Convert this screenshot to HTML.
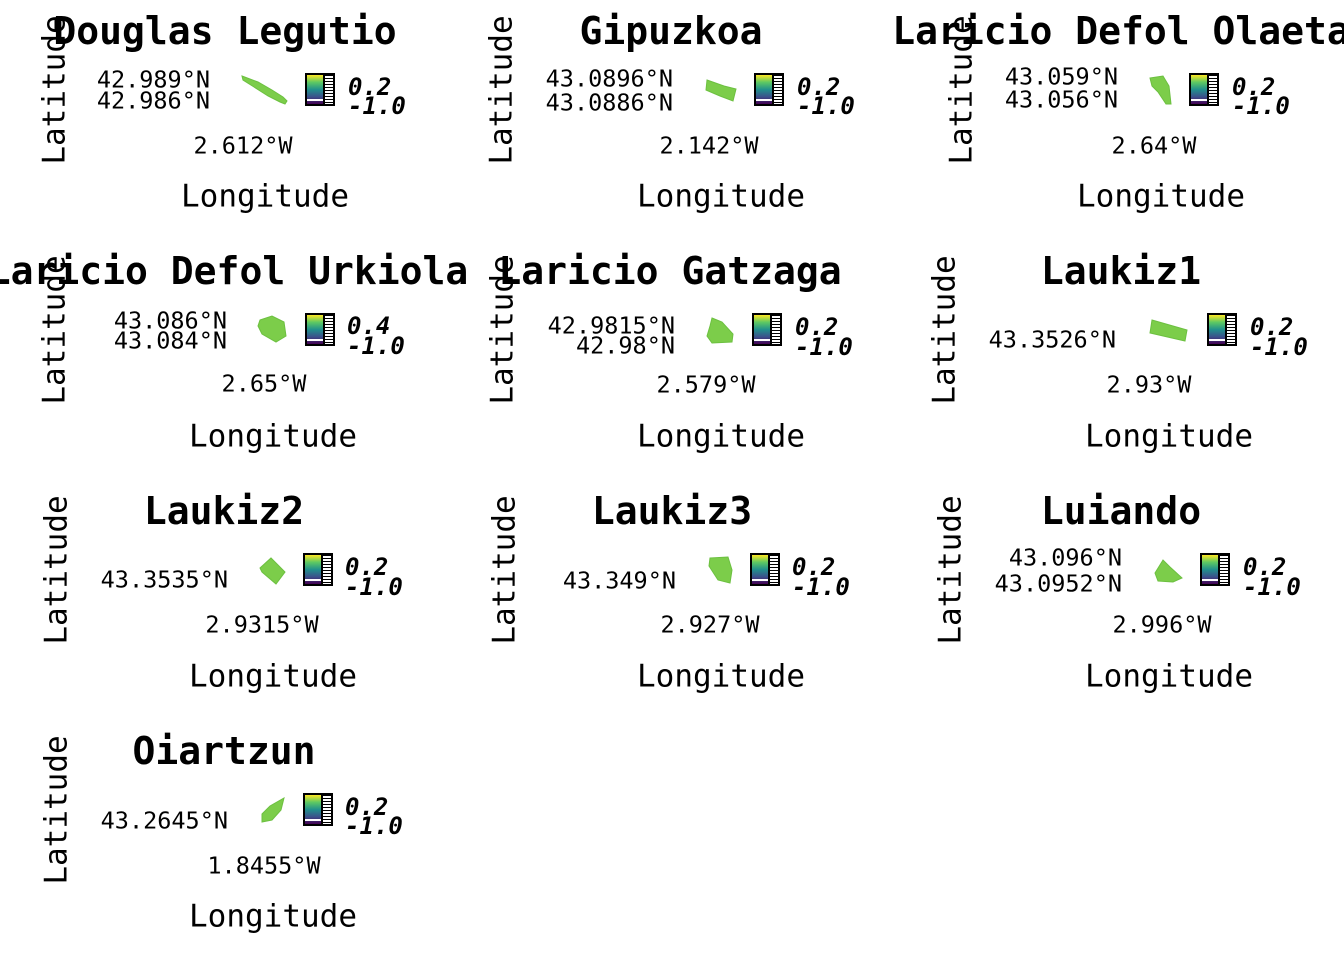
<!DOCTYPE html>
<html><head><meta charset="utf-8"><style>
body{margin:0;width:1344px;height:960px;background:#fff;position:relative;overflow:hidden;font-family:"DejaVu Sans Mono","Liberation Mono",monospace;color:#000}
.t{position:absolute;white-space:nowrap;transform:translate(-50%,-50%);line-height:1}
.ti{font-size:38px;font-weight:bold}
.lo{font-size:31px}
.la{font-size:31px;transform:translate(-50%,-50%) rotate(-90deg)}
.tk{font-size:23.5px}
.yt{position:absolute;white-space:nowrap;transform:translate(-100%,-50%);font-size:23.5px;line-height:1}
.cl{position:absolute;white-space:nowrap;font-size:24px;font-weight:bold;font-style:italic;line-height:1;transform:translateY(-50%)}
.cb{position:absolute;width:30px;height:33px;box-sizing:border-box;border:2px solid #000;display:flex}
.cb .g{width:16px;height:100%;background:linear-gradient(#fde725,#5ec962,#21918c,#3b528b,#440154);border-right:2px solid #000;position:relative}
.cb .g:after{content:"";position:absolute;left:0;right:0;bottom:3px;height:2px;background:#fff}
.cb .s{flex:1;background:repeating-linear-gradient(#000 0 1px,#fff 1px 3px)}
svg{position:absolute;left:0;top:0}
</style></head><body>
<svg width="1344" height="960">
<g fill="#7ccd4a" stroke="#6cc040" stroke-width="1">
<path d="M242,76 L258,82 L272,90 L283,97 L287,101 L285,104 L280,102 L268,96 L254,87 L243,80Z"/>
<path d="M707,80 L724,86 L736,89 L733,101 L720,96 L706,90Z"/>
<path d="M1150,78 L1163,76 L1169,86 L1171,104 L1166,104 L1158,92 L1152,86Z"/>
<path d="M260,320 L272,316 L284,322 L286,336 L276,342 L262,334 L258,326Z"/>
<path d="M712,318 L722,322 L733,334 L732,342 L712,343 L707,336 L710,326Z"/>
<path d="M1152,320 L1187,330 L1185,341 L1150,333Z"/>
<path d="M260,568 L271,558 L285,572 L276,584 L262,572Z"/>
<path d="M710,558 L728,557 L732,570 L730,583 L718,580 L709,566Z"/>
<path d="M1155,573 L1163,560 L1170,567 L1182,578 L1173,582 L1158,581Z"/>
<path d="M262,814 L270,806 L284,798 L281,810 L272,820 L262,822Z"/>
</g></svg>

<div class="t ti" style="left:225px;top:31px">Douglas Legutio</div>
<div class="t la" style="left:55px;top:90px">Latitude</div>
<div class="yt" style="left:210px;top:80px">42.989°N</div>
<div class="yt" style="left:210px;top:101px">42.986°N</div>
<div class="t tk" style="left:243px;top:146px">2.612°W</div>
<div class="t lo" style="left:265px;top:197px">Longitude</div>
<div class="cb" style="left:305px;top:73px"><div class="g"></div><div class="s"></div></div>
<div class="cl" style="left:348px;top:87px">0.2</div><div class="cl" style="left:348px;top:106px">-1.0</div>

<div class="t ti" style="left:671px;top:31px">Gipuzkoa</div>
<div class="t la" style="left:502px;top:90px">Latitude</div>
<div class="yt" style="left:673px;top:79px">43.0896°N</div>
<div class="yt" style="left:673px;top:103px">43.0886°N</div>
<div class="t tk" style="left:709px;top:146px">2.142°W</div>
<div class="t lo" style="left:721px;top:197px">Longitude</div>
<div class="cb" style="left:754px;top:73px"><div class="g"></div><div class="s"></div></div>
<div class="cl" style="left:797px;top:87px">0.2</div><div class="cl" style="left:797px;top:106px">-1.0</div>

<div class="t ti" style="left:1121px;top:31px">Laricio Defol Olaeta</div>
<div class="t la" style="left:962px;top:90px">Latitude</div>
<div class="yt" style="left:1118px;top:77px">43.059°N</div>
<div class="yt" style="left:1118px;top:100px">43.056°N</div>
<div class="t tk" style="left:1154px;top:146px">2.64°W</div>
<div class="t lo" style="left:1161px;top:197px">Longitude</div>
<div class="cb" style="left:1189px;top:73px"><div class="g"></div><div class="s"></div></div>
<div class="cl" style="left:1232px;top:87px">0.2</div><div class="cl" style="left:1232px;top:106px">-1.0</div>

<div class="t ti" style="left:228px;top:271px">Laricio Defol Urkiola</div>
<div class="t la" style="left:55px;top:330px">Latitude</div>
<div class="yt" style="left:227px;top:321px">43.086°N</div>
<div class="yt" style="left:227px;top:341px">43.084°N</div>
<div class="t tk" style="left:264px;top:384px">2.65°W</div>
<div class="t lo" style="left:273px;top:437px">Longitude</div>
<div class="cb" style="left:305px;top:313px"><div class="g"></div><div class="s"></div></div>
<div class="cl" style="left:347px;top:326px">0.4</div><div class="cl" style="left:347px;top:346px">-1.0</div>

<div class="t ti" style="left:670px;top:271px">Laricio Gatzaga</div>
<div class="t la" style="left:503px;top:330px">Latitude</div>
<div class="yt" style="left:675px;top:326px">42.9815°N</div>
<div class="yt" style="left:675px;top:346px">42.98°N</div>
<div class="t tk" style="left:706px;top:385px">2.579°W</div>
<div class="t lo" style="left:721px;top:437px">Longitude</div>
<div class="cb" style="left:752px;top:313px"><div class="g"></div><div class="s"></div></div>
<div class="cl" style="left:795px;top:327px">0.2</div><div class="cl" style="left:795px;top:347px">-1.0</div>

<div class="t ti" style="left:1121px;top:271px">Laukiz1</div>
<div class="t la" style="left:945px;top:330px">Latitude</div>
<div class="yt" style="left:1116px;top:340px">43.3526°N</div>
<div class="t tk" style="left:1149px;top:385px">2.93°W</div>
<div class="t lo" style="left:1169px;top:437px">Longitude</div>
<div class="cb" style="left:1207px;top:313px"><div class="g"></div><div class="s"></div></div>
<div class="cl" style="left:1250px;top:327px">0.2</div><div class="cl" style="left:1250px;top:347px">-1.0</div>

<div class="t ti" style="left:224px;top:511px">Laukiz2</div>
<div class="t la" style="left:57px;top:570px">Latitude</div>
<div class="yt" style="left:228px;top:580px">43.3535°N</div>
<div class="t tk" style="left:262px;top:625px">2.9315°W</div>
<div class="t lo" style="left:273px;top:677px">Longitude</div>
<div class="cb" style="left:303px;top:553px"><div class="g"></div><div class="s"></div></div>
<div class="cl" style="left:345px;top:567px">0.2</div><div class="cl" style="left:345px;top:587px">-1.0</div>

<div class="t ti" style="left:672px;top:511px">Laukiz3</div>
<div class="t la" style="left:505px;top:570px">Latitude</div>
<div class="yt" style="left:676px;top:581px">43.349°N</div>
<div class="t tk" style="left:710px;top:625px">2.927°W</div>
<div class="t lo" style="left:721px;top:677px">Longitude</div>
<div class="cb" style="left:750px;top:553px"><div class="g"></div><div class="s"></div></div>
<div class="cl" style="left:792px;top:567px">0.2</div><div class="cl" style="left:792px;top:587px">-1.0</div>

<div class="t ti" style="left:1121px;top:511px">Luiando</div>
<div class="t la" style="left:951px;top:570px">Latitude</div>
<div class="yt" style="left:1122px;top:558px">43.096°N</div>
<div class="yt" style="left:1122px;top:584px">43.0952°N</div>
<div class="t tk" style="left:1162px;top:625px">2.996°W</div>
<div class="t lo" style="left:1169px;top:677px">Longitude</div>
<div class="cb" style="left:1200px;top:553px"><div class="g"></div><div class="s"></div></div>
<div class="cl" style="left:1243px;top:567px">0.2</div><div class="cl" style="left:1243px;top:587px">-1.0</div>

<div class="t ti" style="left:224px;top:751px">Oiartzun</div>
<div class="t la" style="left:57px;top:810px">Latitude</div>
<div class="yt" style="left:228px;top:821px">43.2645°N</div>
<div class="t tk" style="left:264px;top:866px">1.8455°W</div>
<div class="t lo" style="left:273px;top:917px">Longitude</div>
<div class="cb" style="left:303px;top:793px"><div class="g"></div><div class="s"></div></div>
<div class="cl" style="left:345px;top:807px">0.2</div><div class="cl" style="left:345px;top:826px">-1.0</div>
</body></html>
